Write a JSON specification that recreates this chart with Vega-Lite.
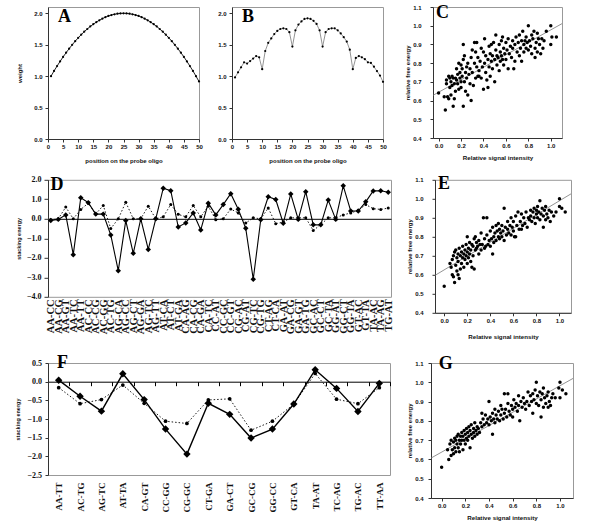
{
"$schema":"https://vega.github.io/schema/vega-lite/v6.json",
"padding":{"left":15,"top":3,"right":5,"bottom":5},
"background":"white",
"datasets":{
"wa":[{"p":1,"w":1.0},{"p":2,"w":1.082},{"p":3,"w":1.16},{"p":4,"w":1.234},{"p":5,"w":1.306},{"p":6,"w":1.373},{"p":7,"w":1.437},{"p":8,"w":1.498},{"p":9,"w":1.556},{"p":10,"w":1.609},{"p":11,"w":1.66},{"p":12,"w":1.707},{"p":13,"w":1.75},{"p":14,"w":1.79},{"p":15,"w":1.826},{"p":16,"w":1.859},{"p":17,"w":1.889},{"p":18,"w":1.915},{"p":19,"w":1.938},{"p":20,"w":1.957},{"p":21,"w":1.972},{"p":22,"w":1.984},{"p":23,"w":1.993},{"p":24,"w":1.998},{"p":25,"w":2.0},{"p":26,"w":1.998},{"p":27,"w":1.993},{"p":28,"w":1.984},{"p":29,"w":1.972},{"p":30,"w":1.957},{"p":31,"w":1.938},{"p":32,"w":1.915},{"p":33,"w":1.889},{"p":34,"w":1.859},{"p":35,"w":1.826},{"p":36,"w":1.79},{"p":37,"w":1.75},{"p":38,"w":1.707},{"p":39,"w":1.66},{"p":40,"w":1.609},{"p":41,"w":1.556},{"p":42,"w":1.498},{"p":43,"w":1.437},{"p":44,"w":1.373},{"p":45,"w":1.306},{"p":46,"w":1.234},{"p":47,"w":1.16},{"p":48,"w":1.082},{"p":49,"w":1.0},{"p":50,"w":0.915}],
"wb":[{"p":1,"w":0.98},{"p":2,"w":1.06},{"p":3,"w":1.14},{"p":4,"w":1.22},{"p":5,"w":1.2},{"p":6,"w":1.24},{"p":7,"w":1.28},{"p":8,"w":1.32},{"p":9,"w":1.3},{"p":10,"w":1.11},{"p":11,"w":1.4},{"p":12,"w":1.53},{"p":13,"w":1.6},{"p":14,"w":1.67},{"p":15,"w":1.72},{"p":16,"w":1.75},{"p":17,"w":1.76},{"p":18,"w":1.75},{"p":19,"w":1.7},{"p":20,"w":1.47},{"p":21,"w":1.73},{"p":22,"w":1.82},{"p":23,"w":1.87},{"p":24,"w":1.91},{"p":25,"w":1.92},{"p":26,"w":1.91},{"p":27,"w":1.88},{"p":28,"w":1.83},{"p":29,"w":1.73},{"p":30,"w":1.47},{"p":31,"w":1.7},{"p":32,"w":1.75},{"p":33,"w":1.76},{"p":34,"w":1.76},{"p":35,"w":1.73},{"p":36,"w":1.68},{"p":37,"w":1.62},{"p":38,"w":1.55},{"p":39,"w":1.42},{"p":40,"w":1.11},{"p":41,"w":1.29},{"p":42,"w":1.32},{"p":43,"w":1.3},{"p":44,"w":1.27},{"p":45,"w":1.22},{"p":46,"w":1.21},{"p":47,"w":1.15},{"p":48,"w":1.08},{"p":49,"w":1.01},{"p":50,"w":0.91}],
"c":[{"x":0.0,"y":0.64},{"x":0.05,"y":0.62},{"x":0.06,"y":0.55},{"x":0.07,"y":0.69},{"x":0.07,"y":0.71},{"x":0.08,"y":0.62},{"x":0.09,"y":0.73},{"x":0.09,"y":0.61},{"x":0.1,"y":0.72},{"x":0.1,"y":0.67},{"x":0.11,"y":0.63},{"x":0.11,"y":0.7},{"x":0.12,"y":0.73},{"x":0.12,"y":0.68},{"x":0.13,"y":0.57},{"x":0.13,"y":0.72},{"x":0.14,"y":0.69},{"x":0.14,"y":0.61},{"x":0.15,"y":0.72},{"x":0.15,"y":0.65},{"x":0.16,"y":0.71},{"x":0.16,"y":0.77},{"x":0.17,"y":0.69},{"x":0.17,"y":0.74},{"x":0.18,"y":0.8},{"x":0.18,"y":0.66},{"x":0.19,"y":0.72},{"x":0.19,"y":0.75},{"x":0.2,"y":0.7},{"x":0.2,"y":0.79},{"x":0.2,"y":0.67},{"x":0.21,"y":0.73},{"x":0.21,"y":0.77},{"x":0.22,"y":0.9},{"x":0.22,"y":0.57},{"x":0.22,"y":0.82},{"x":0.23,"y":0.7},{"x":0.23,"y":0.84},{"x":0.24,"y":0.75},{"x":0.24,"y":0.65},{"x":0.25,"y":0.78},{"x":0.25,"y":0.72},{"x":0.26,"y":0.63},{"x":0.26,"y":0.8},{"x":0.27,"y":0.74},{"x":0.28,"y":0.77},{"x":0.28,"y":0.69},{"x":0.29,"y":0.6},{"x":0.29,"y":0.83},{"x":0.3,"y":0.75},{"x":0.3,"y":0.87},{"x":0.31,"y":0.68},{"x":0.32,"y":0.8},{"x":0.32,"y":0.91},{"x":0.33,"y":0.72},{"x":0.33,"y":0.86},{"x":0.34,"y":0.91},{"x":0.34,"y":0.78},{"x":0.35,"y":0.73},{"x":0.35,"y":0.83},{"x":0.36,"y":0.76},{"x":0.36,"y":0.73},{"x":0.37,"y":0.81},{"x":0.38,"y":0.88},{"x":0.38,"y":0.72},{"x":0.39,"y":0.78},{"x":0.4,"y":0.66},{"x":0.4,"y":0.86},{"x":0.41,"y":0.93},{"x":0.41,"y":0.8},{"x":0.42,"y":0.75},{"x":0.42,"y":0.84},{"x":0.43,"y":0.71},{"x":0.44,"y":0.67},{"x":0.44,"y":0.82},{"x":0.45,"y":0.78},{"x":0.45,"y":0.89},{"x":0.46,"y":0.85},{"x":0.46,"y":0.73},{"x":0.47,"y":0.9},{"x":0.47,"y":0.81},{"x":0.48,"y":0.84},{"x":0.48,"y":0.77},{"x":0.49,"y":0.91},{"x":0.5,"y":0.82},{"x":0.5,"y":0.7},{"x":0.51,"y":0.87},{"x":0.51,"y":0.95},{"x":0.52,"y":0.79},{"x":0.52,"y":0.84},{"x":0.53,"y":0.83},{"x":0.54,"y":0.9},{"x":0.54,"y":0.76},{"x":0.55,"y":0.86},{"x":0.55,"y":0.81},{"x":0.56,"y":0.92},{"x":0.56,"y":0.84},{"x":0.57,"y":0.94},{"x":0.57,"y":0.82},{"x":0.58,"y":0.88},{"x":0.58,"y":0.79},{"x":0.59,"y":0.85},{"x":0.6,"y":0.82},{"x":0.6,"y":0.91},{"x":0.61,"y":0.87},{"x":0.62,"y":0.77},{"x":0.62,"y":0.93},{"x":0.63,"y":0.85},{"x":0.64,"y":0.89},{"x":0.65,"y":0.83},{"x":0.66,"y":0.92},{"x":0.66,"y":0.88},{"x":0.67,"y":0.77},{"x":0.68,"y":0.9},{"x":0.68,"y":0.81},{"x":0.69,"y":0.94},{"x":0.7,"y":0.86},{"x":0.71,"y":0.91},{"x":0.72,"y":0.84},{"x":0.72,"y":0.95},{"x":0.73,"y":0.88},{"x":0.74,"y":0.92},{"x":0.74,"y":0.81},{"x":0.75,"y":0.97},{"x":0.76,"y":0.9},{"x":0.76,"y":0.86},{"x":0.77,"y":0.92},{"x":0.78,"y":0.94},{"x":0.78,"y":0.88},{"x":0.79,"y":0.91},{"x":0.8,"y":1.0},{"x":0.8,"y":0.87},{"x":0.81,"y":0.92},{"x":0.82,"y":0.89},{"x":0.83,"y":0.95},{"x":0.83,"y":0.85},{"x":0.84,"y":0.93},{"x":0.85,"y":0.97},{"x":0.86,"y":0.88},{"x":0.86,"y":0.83},{"x":0.87,"y":0.91},{"x":0.88,"y":0.96},{"x":0.88,"y":0.86},{"x":0.89,"y":0.93},{"x":0.9,"y":0.9},{"x":0.91,"y":0.85},{"x":0.92,"y":0.93},{"x":0.93,"y":0.88},{"x":0.94,"y":0.92},{"x":1.0,"y":1.0},{"x":1.0,"y":0.9},{"x":1.01,"y":0.94},{"x":1.05,"y":0.94},{"x":0.96,"y":0.97}],
"e":[{"x":0.0,"y":0.54},{"x":0.05,"y":0.66},{"x":0.06,"y":0.64},{"x":0.07,"y":0.6},{"x":0.07,"y":0.68},{"x":0.08,"y":0.59},{"x":0.08,"y":0.7},{"x":0.09,"y":0.72},{"x":0.09,"y":0.56},{"x":0.1,"y":0.65},{"x":0.1,"y":0.73},{"x":0.11,"y":0.62},{"x":0.11,"y":0.69},{"x":0.12,"y":0.71},{"x":0.12,"y":0.67},{"x":0.13,"y":0.58},{"x":0.13,"y":0.74},{"x":0.14,"y":0.63},{"x":0.14,"y":0.7},{"x":0.15,"y":0.72},{"x":0.15,"y":0.66},{"x":0.16,"y":0.69},{"x":0.16,"y":0.75},{"x":0.17,"y":0.71},{"x":0.17,"y":0.64},{"x":0.18,"y":0.73},{"x":0.18,"y":0.68},{"x":0.19,"y":0.76},{"x":0.19,"y":0.7},{"x":0.2,"y":0.8},{"x":0.2,"y":0.72},{"x":0.2,"y":0.66},{"x":0.21,"y":0.74},{"x":0.21,"y":0.69},{"x":0.22,"y":0.71},{"x":0.22,"y":0.77},{"x":0.23,"y":0.73},{"x":0.23,"y":0.67},{"x":0.24,"y":0.64},{"x":0.24,"y":0.76},{"x":0.25,"y":0.75},{"x":0.25,"y":0.7},{"x":0.26,"y":0.79},{"x":0.27,"y":0.73},{"x":0.27,"y":0.8},{"x":0.28,"y":0.74},{"x":0.28,"y":0.77},{"x":0.29,"y":0.75},{"x":0.3,"y":0.78},{"x":0.3,"y":0.71},{"x":0.31,"y":0.76},{"x":0.32,"y":0.73},{"x":0.32,"y":0.82},{"x":0.33,"y":0.76},{"x":0.34,"y":0.9},{"x":0.35,"y":0.74},{"x":0.35,"y":0.79},{"x":0.36,"y":0.75},{"x":0.37,"y":0.9},{"x":0.37,"y":0.81},{"x":0.38,"y":0.76},{"x":0.39,"y":0.78},{"x":0.4,"y":0.83},{"x":0.4,"y":0.75},{"x":0.41,"y":0.79},{"x":0.42,"y":0.71},{"x":0.42,"y":0.85},{"x":0.43,"y":0.8},{"x":0.43,"y":0.77},{"x":0.44,"y":0.82},{"x":0.45,"y":0.78},{"x":0.45,"y":0.86},{"x":0.46,"y":0.83},{"x":0.47,"y":0.8},{"x":0.47,"y":0.87},{"x":0.48,"y":0.79},{"x":0.48,"y":0.84},{"x":0.49,"y":0.82},{"x":0.5,"y":0.86},{"x":0.5,"y":0.8},{"x":0.51,"y":0.83},{"x":0.52,"y":0.78},{"x":0.52,"y":0.95},{"x":0.53,"y":0.85},{"x":0.54,"y":0.81},{"x":0.55,"y":0.88},{"x":0.55,"y":0.84},{"x":0.56,"y":0.82},{"x":0.57,"y":0.86},{"x":0.58,"y":0.9},{"x":0.58,"y":0.81},{"x":0.59,"y":0.85},{"x":0.6,"y":0.83},{"x":0.6,"y":0.88},{"x":0.61,"y":0.8},{"x":0.62,"y":0.91},{"x":0.63,"y":0.86},{"x":0.64,"y":0.93},{"x":0.65,"y":0.84},{"x":0.66,"y":0.88},{"x":0.67,"y":0.92},{"x":0.68,"y":0.86},{"x":0.69,"y":0.9},{"x":0.7,"y":0.87},{"x":0.71,"y":0.93},{"x":0.72,"y":0.85},{"x":0.73,"y":0.9},{"x":0.74,"y":0.89},{"x":0.75,"y":0.94},{"x":0.75,"y":0.91},{"x":0.76,"y":0.88},{"x":0.77,"y":0.93},{"x":0.78,"y":0.95},{"x":0.78,"y":0.9},{"x":0.79,"y":0.87},{"x":0.8,"y":0.92},{"x":0.8,"y":0.94},{"x":0.81,"y":0.96},{"x":0.81,"y":0.9},{"x":0.82,"y":0.93},{"x":0.83,"y":0.99},{"x":0.83,"y":0.89},{"x":0.84,"y":0.92},{"x":0.85,"y":0.95},{"x":0.86,"y":0.91},{"x":0.87,"y":0.94},{"x":0.88,"y":0.89},{"x":0.88,"y":0.96},{"x":0.89,"y":0.92},{"x":0.9,"y":0.9},{"x":0.91,"y":0.94},{"x":0.92,"y":0.88},{"x":0.93,"y":0.93},{"x":0.95,"y":0.91},{"x":1.0,"y":1.0},{"x":1.0,"y":0.96},{"x":1.02,"y":0.95},{"x":1.05,"y":0.93},{"x":0.97,"y":0.93},{"x":0.86,"y":0.85},{"x":0.62,"y":0.8},{"x":0.67,"y":0.84},{"x":0.26,"y":0.63},{"x":0.12,"y":0.6}],
"g":[{"x":0.0,"y":0.56},{"x":0.05,"y":0.65},{"x":0.06,"y":0.6},{"x":0.07,"y":0.68},{"x":0.08,"y":0.62},{"x":0.08,"y":0.7},{"x":0.09,"y":0.65},{"x":0.1,"y":0.63},{"x":0.1,"y":0.69},{"x":0.11,"y":0.71},{"x":0.11,"y":0.66},{"x":0.12,"y":0.64},{"x":0.12,"y":0.7},{"x":0.13,"y":0.68},{"x":0.13,"y":0.72},{"x":0.14,"y":0.66},{"x":0.14,"y":0.73},{"x":0.15,"y":0.7},{"x":0.15,"y":0.64},{"x":0.16,"y":0.72},{"x":0.16,"y":0.68},{"x":0.17,"y":0.74},{"x":0.17,"y":0.7},{"x":0.18,"y":0.65},{"x":0.18,"y":0.72},{"x":0.19,"y":0.75},{"x":0.19,"y":0.7},{"x":0.2,"y":0.73},{"x":0.2,"y":0.68},{"x":0.21,"y":0.76},{"x":0.21,"y":0.71},{"x":0.22,"y":0.74},{"x":0.22,"y":0.7},{"x":0.23,"y":0.77},{"x":0.23,"y":0.72},{"x":0.24,"y":0.66},{"x":0.24,"y":0.75},{"x":0.25,"y":0.73},{"x":0.25,"y":0.78},{"x":0.26,"y":0.71},{"x":0.27,"y":0.76},{"x":0.27,"y":0.74},{"x":0.28,"y":0.79},{"x":0.28,"y":0.72},{"x":0.29,"y":0.75},{"x":0.3,"y":0.77},{"x":0.3,"y":0.73},{"x":0.31,"y":0.76},{"x":0.32,"y":0.74},{"x":0.33,"y":0.79},{"x":0.34,"y":0.84},{"x":0.34,"y":0.77},{"x":0.35,"y":0.81},{"x":0.36,"y":0.78},{"x":0.37,"y":0.83},{"x":0.38,"y":0.79},{"x":0.39,"y":0.81},{"x":0.4,"y":0.9},{"x":0.4,"y":0.78},{"x":0.41,"y":0.82},{"x":0.42,"y":0.8},{"x":0.43,"y":0.84},{"x":0.43,"y":0.73},{"x":0.44,"y":0.81},{"x":0.45,"y":0.86},{"x":0.45,"y":0.79},{"x":0.46,"y":0.83},{"x":0.47,"y":0.81},{"x":0.48,"y":0.85},{"x":0.49,"y":0.8},{"x":0.5,"y":0.88},{"x":0.5,"y":0.83},{"x":0.51,"y":0.86},{"x":0.52,"y":0.81},{"x":0.53,"y":0.94},{"x":0.53,"y":0.84},{"x":0.54,"y":0.86},{"x":0.55,"y":0.82},{"x":0.56,"y":0.89},{"x":0.56,"y":0.94},{"x":0.57,"y":0.85},{"x":0.58,"y":0.83},{"x":0.59,"y":0.88},{"x":0.6,"y":0.86},{"x":0.6,"y":0.82},{"x":0.61,"y":0.91},{"x":0.62,"y":0.87},{"x":0.63,"y":0.89},{"x":0.64,"y":0.85},{"x":0.65,"y":0.93},{"x":0.65,"y":0.88},{"x":0.66,"y":0.8},{"x":0.67,"y":0.9},{"x":0.68,"y":0.87},{"x":0.69,"y":0.92},{"x":0.7,"y":0.89},{"x":0.71,"y":0.86},{"x":0.72,"y":0.9},{"x":0.73,"y":0.95},{"x":0.74,"y":0.88},{"x":0.75,"y":0.93},{"x":0.76,"y":0.9},{"x":0.77,"y":0.84},{"x":0.77,"y":0.94},{"x":0.78,"y":0.91},{"x":0.79,"y":0.96},{"x":0.8,"y":1.0},{"x":0.8,"y":0.89},{"x":0.81,"y":0.93},{"x":0.82,"y":0.88},{"x":0.83,"y":0.95},{"x":0.84,"y":0.91},{"x":0.85,"y":0.94},{"x":0.86,"y":0.97},{"x":0.86,"y":0.87},{"x":0.87,"y":0.92},{"x":0.88,"y":0.89},{"x":0.89,"y":0.93},{"x":0.9,"y":0.95},{"x":0.91,"y":0.9},{"x":0.92,"y":0.88},{"x":0.93,"y":0.92},{"x":0.94,"y":0.94},{"x":1.0,"y":1.0},{"x":0.99,"y":0.97},{"x":1.0,"y":0.92},{"x":1.02,"y":0.96},{"x":1.05,"y":0.94},{"x":0.96,"y":0.92},{"x":0.84,"y":0.82},{"x":0.9,"y":0.87}],
"cl":[{"x":-0.05,"y":0.628},{"x":1.1,"y":1.011}],
"el":[{"x":-0.08,"y":0.597},{"x":1.1,"y":1.026}],
"gl":[{"x":-0.09,"y":0.607},{"x":1.11,"y":1.02}],
"d":[{"k":"AA-CC","s":-0.09,"t":-0.05},{"k":"AA-CG","s":-0.03,"t":0.0},{"k":"AA-GT","s":0.2,"t":0.6},{"k":"AA-TC","s":-1.84,"t":0.0},{"k":"AA-TT","s":1.08,"t":0.48},{"k":"AC-CC","s":0.83,"t":0.8},{"k":"AC-CG","s":0.24,"t":0.25},{"k":"AC-GG","s":0.24,"t":0.68},{"k":"AC-TG","s":-0.83,"t":-0.5},{"k":"AG-CA","s":-2.66,"t":0.0},{"k":"AG-CC","s":-0.09,"t":0.85},{"k":"AG-CT","s":-1.77,"t":0.0},{"k":"AG-GA","s":0.0,"t":0.0},{"k":"AG-TC","s":-1.57,"t":0.65},{"k":"AG-TT","s":0.0,"t":0.0},{"k":"AT-CA","s":1.57,"t":0.1},{"k":"AT-CT","s":1.44,"t":0.73},{"k":"AT-GA","s":-0.42,"t":0.23},{"k":"CA-AG","s":-0.21,"t":0.1},{"k":"CA-CG","s":0.3,"t":0.68},{"k":"CA-GA","s":-0.57,"t":0.1},{"k":"CA-TC","s":0.8,"t":0.65},{"k":"CC-AT","s":0.2,"t":-0.05},{"k":"CC-GC","s":0.73,"t":0.0},{"k":"CC-GT","s":1.29,"t":0.5},{"k":"CG-AC","s":0.49,"t":0.3},{"k":"CG-AT","s":-0.49,"t":-0.22},{"k":"CG-TC","s":-3.1,"t":0.05},{"k":"CG-TG","s":-0.05,"t":0.0},{"k":"CT-AG","s":1.13,"t":0.55},{"k":"CT-CA","s":0.99,"t":-0.25},{"k":"GA-AT","s":-0.23,"t":-0.17},{"k":"GA-CG","s":1.27,"t":0.05},{"k":"GA-GT","s":-0.03,"t":0.05},{"k":"GA-TG","s":1.39,"t":0.05},{"k":"GC-AC","s":-0.31,"t":-0.6},{"k":"GC-CT","s":-0.31,"t":-0.3},{"k":"GC-TA","s":0.96,"t":0.05},{"k":"GG-AT","s":-0.03,"t":0.05},{"k":"GG-CT","s":1.69,"t":0.2},{"k":"GG-TA","s":0.4,"t":0.3},{"k":"GT-AC","s":0.4,"t":0.43},{"k":"GT-TA","s":0.87,"t":0.73},{"k":"TA-AC","s":1.43,"t":0.52},{"k":"TA-AG","s":1.44,"t":0.48},{"k":"TG-AT","s":1.36,"t":0.55}],
"f":[{"k":"AA-TT","s":0.04,"t":-0.16},{"k":"AC-TG","s":-0.39,"t":-0.59},{"k":"AG-TC","s":-0.79,"t":-0.48},{"k":"AT-TA","s":0.21,"t":-0.09},{"k":"CA-GT","s":-0.48,"t":-0.58},{"k":"CC-GG","s":-1.27,"t":-1.06},{"k":"CG-GC","s":-1.94,"t":-1.12},{"k":"CT-GA","s":-0.58,"t":-0.49},{"k":"GA-CT","s":-0.875,"t":-0.46},{"k":"GC-CG","s":-1.51,"t":-1.3},{"k":"GG-CC","s":-1.27,"t":-1.06},{"k":"GT-CA","s":-0.6,"t":-0.6},{"k":"TA-AT","s":0.32,"t":0.22},{"k":"TC-AG","s":-0.18,"t":-0.47},{"k":"TG-AC","s":-0.8,"t":-0.59},{"k":"TT-AA","s":-0.045,"t":-0.16}]
},
"config":{
"view":{"stroke":"#999","strokeWidth":1},
"font":"Liberation Sans",
"title":{"font":"Liberation Serif","fontSize":18,"fontWeight":"bold","color":"#000","anchor":"start","frame":"group","orient":"top","baseline":"alphabetic"},
"axis":{"grid":false,"domainColor":"#333","tickColor":"#333","labelColor":"#111","titleColor":"#111","labelFontSize":6,"titleFontSize":6,"titleFontWeight":"bold","tickSize":3,"labelFontWeight":"bold","labelOverlap":false,"labelFlush":false,"labelBound":false}
},
"vconcat":[
{"hconcat":[
 {"hconcat":[
  {"width":151,"height":132,"data":{"name":"wa"},
   "title":{"text":"A","offset":-19,"dx":10},
   "encoding":{"x":{"field":"p","type":"quantitative","scale":{"domain":[0,50],"nice":false},"axis":{"values":[0,5,10,15,20,25,30,35,40,45,50],"title":"position on the probe oligo","labelPadding":1,"titlePadding":8}},"y":{"field":"w","type":"quantitative","scale":{"domain":[0,2.1],"nice":false},"axis":{"values":[0,0.5,1,1.5,2],"format":".1f","title":"weight","labelPadding":3,"titlePadding":11}}},
   "layer":[
    {"mark":{"type":"line","color":"#222","strokeWidth":1}},
    {"mark":{"type":"point","filled":true,"color":"#000","size":5,"opacity":1}}
   ]},
  {"width":151,"height":132,"data":{"name":"wb"},
   "title":{"text":"B","offset":-19,"dx":10},
   "encoding":{"x":{"field":"p","type":"quantitative","scale":{"domain":[0,50],"nice":false},"axis":{"values":[0,5,10,15,20,25,30,35,40,45,50],"title":"position on the probe oligo","labelPadding":1,"titlePadding":8}},"y":{"field":"w","type":"quantitative","scale":{"domain":[0,2.1],"nice":false},"axis":{"values":[0,0.5,1,1.5,2],"format":".1f","title":null,"labelPadding":3}}},
   "layer":[
    {"mark":{"type":"line","color":"#777","strokeWidth":0.8}},
    {"mark":{"type":"point","filled":true,"color":"#000","size":5,"opacity":1}}
   ]}
 ],"spacing":14},
 {"width":129,"height":131,
  "title":{"text":"C","offset":-18.4,"dx":3},
  "encoding":{"x":{"field":"x","type":"quantitative","scale":{"domain":[-0.05,1.1],"nice":false,"zero":false},"axis":{"values":[0,0.2,0.4,0.6,0.8,1],"format":".1f","title":"Relative signal intensity","titleFontSize":6.2,"labelPadding":1,"titlePadding":6}},"y":{"field":"y","type":"quantitative","scale":{"domain":[0.4,1.1],"nice":false,"zero":false},"axis":{"values":[0.4,0.5,0.6,0.7,0.8,0.9,1,1.1],"format":".1f","title":"relative free energy","labelPadding":9,"titlePadding":2}}},
  "layer":[
   {"data":{"name":"cl"},"mark":{"type":"line","color":"#777","strokeWidth":0.8}},
   {"data":{"name":"c"},"mark":{"type":"circle","color":"#000","size":12,"opacity":1}}
  ]}
],"spacing":17},
{"vconcat":[
{"hconcat":[
 {"width":343,"height":117,"data":{"name":"d"},
  "title":{"text":"D","offset":-18.4,"dx":2.5},
  "transform":[{"fold":["s","t"],"as":["ser","v"]}],
  "encoding":{"x":{"field":"k","type":"ordinal","sort":null,"scale":{"type":"point","padding":0.37},"axis":{"title":null,"orient":"bottom","offset":-78,"labelAngle":270,"labelFont":"Liberation Serif","labelFontSize":10.5,"labelFontWeight":"bold","ticks":false,"domain":true,"domainColor":"#000","domainWidth":1,"labelPadding":80}},"y":{"field":"v","type":"quantitative","scale":{"domain":[-4,2],"nice":false},"axis":{"values":[-4,-3,-2,-1,0,1,2],"format":".1f","title":"stacking energy","titleFontSize":5.5,"labelFont":"Liberation Serif","labelFontSize":8,"labelFontWeight":"bold","tickSize":4,"labelPadding":3,"titlePadding":5}}},
  "layer":[
   {"transform":[{"filter":"datum.ser === 't'"}],"mark":{"type":"line","color":"#000","strokeWidth":0.9,"strokeDash":[1.5,2]}},
   {"transform":[{"filter":"datum.ser === 't'"}],"mark":{"type":"circle","color":"#000","size":9,"opacity":1}},
   {"transform":[{"filter":"datum.ser === 's'"}],"mark":{"type":"line","color":"#000","strokeWidth":1.1}},
   {"transform":[{"filter":"datum.ser === 's'"}],"mark":{"type":"point","shape":"diamond","filled":true,"color":"#000","size":30,"opacity":1}}
  ]},
 {"width":136,"height":133,
  "title":{"text":"E","offset":-15.7,"dx":3},
  "encoding":{"x":{"field":"x","type":"quantitative","scale":{"domain":[-0.08,1.1],"nice":false,"zero":false},"axis":{"values":[0,0.2,0.4,0.6,0.8,1],"format":".1f","title":"Relative signal intensity","titleFontSize":6.2,"labelPadding":2,"titlePadding":10}},"y":{"field":"y","type":"quantitative","scale":{"domain":[0.4,1.1],"nice":false,"zero":false},"axis":{"values":[0.4,0.5,0.6,0.7,0.8,0.9,1,1.1],"format":".1f","title":"relative free energy","labelPadding":9,"titlePadding":2}}},
  "layer":[
   {"data":{"name":"el"},"mark":{"type":"line","color":"#777","strokeWidth":0.8}},
   {"data":{"name":"e"},"mark":{"type":"circle","color":"#000","size":12,"opacity":1}}
  ]}
],"spacing":44,"bounds":"flush"},
{"hconcat":[
 {"width":342,"height":112,"data":{"name":"f"},
  "title":{"text":"F","offset":-13,"dx":9},
  "transform":[{"fold":["s","t"],"as":["ser","v"]}],
  "encoding":{"x":{"field":"k","type":"ordinal","sort":null,"scale":{"type":"band","paddingInner":0,"paddingOuter":0},"axis":{"orient":"bottom","offset":-93.3,"title":null,"tickBand":"extent","tickSize":4,"domainColor":"#000","tickColor":"#000","labelAngle":270,"labelFont":"Liberation Serif","labelFontSize":9,"labelFontWeight":"bold","labelPadding":96.3}},"y":{"field":"v","type":"quantitative","scale":{"domain":[-2.5,0.5],"nice":false},"axis":{"values":[-2.5,-2,-1.5,-1,-0.5,0,0.5],"format":".1f","title":"stacking energy","titleFontSize":5.5,"labelFont":"Liberation Serif","labelFontSize":8,"labelFontWeight":"bold","tickSize":3,"labelPadding":3.5,"titlePadding":6}}},
  "layer":[
   {"transform":[{"filter":"datum.ser === 't'"}],"mark":{"type":"line","color":"#000","strokeWidth":0.9,"strokeDash":[1.5,2]}},
   {"transform":[{"filter":"datum.ser === 't'"}],"mark":{"type":"circle","color":"#000","size":14,"opacity":1}},
   {"transform":[{"filter":"datum.ser === 's'"}],"mark":{"type":"line","color":"#000","strokeWidth":1.4}},
   {"transform":[{"filter":"datum.ser === 's'"}],"mark":{"type":"point","shape":"diamond","filled":true,"color":"#000","size":55,"opacity":1}}
  ]},
 {"width":142,"height":135,
  "title":{"text":"G","offset":-13,"dx":7.7},
  "encoding":{"x":{"field":"x","type":"quantitative","scale":{"domain":[-0.09,1.11],"nice":false,"zero":false},"axis":{"values":[0,0.2,0.4,0.6,0.8,1],"format":".1f","title":"Relative signal intensity","titleFontSize":6.2,"labelPadding":1.5,"titlePadding":6}},"y":{"field":"y","type":"quantitative","scale":{"domain":[0.4,1.1],"nice":false,"zero":false},"axis":{"values":[0.4,0.5,0.6,0.7,0.8,0.9,1,1.1],"format":".1f","title":"relative free energy","labelPadding":5,"titlePadding":2}}},
  "layer":[
   {"data":{"name":"gl"},"mark":{"type":"line","color":"#777","strokeWidth":0.8}},
   {"data":{"name":"g"},"mark":{"type":"circle","color":"#000","size":12,"opacity":1}}
  ]}
],"spacing":41,"bounds":"flush"}
],"spacing":12.2}
],"spacing":9.8
}
